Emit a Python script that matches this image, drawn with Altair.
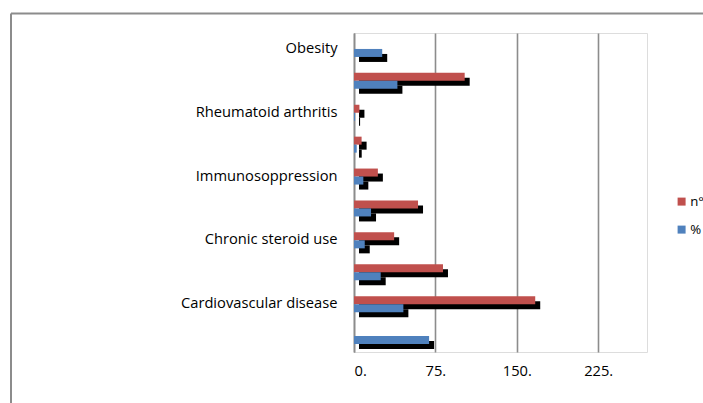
import altair as alt
import pandas as pd

# Rows from top to bottom; hidden-label rows use placeholder keys starting with "_"
rows = ["Obesity", "_2", "Rheumatoid arthritis", "_4", "Immunosoppression",
        "_6", "Chronic steroid use", "_8", "Cardiovascular disease", "_10"]
n_values = [None, 102, 5, 7, 22, 59, 37, 82, 167, None]
pct_values = [26, 40, 1, 2.5, 8.6, 15.7, 9.9, 24.6, 45.5, 69.2]
series_names = ["n°", "%"]
series_colors = ["#C0504D", "#4F81BD"]
x_ticks = [0, 75, 150, 225]

records = []
for r, n, p in zip(rows, n_values, pct_values):
    records.append({"row": r, "series": "n°", "value": n})
    records.append({"row": r, "series": "%", "value": p})
df = pd.DataFrame(records)

FONT = "Open Sans"
FS = 14.7
BAR_H = 8
SHADOW = 5

x_enc = alt.X("value:Q", scale=alt.Scale(domain=[0, 270], nice=False, zero=True),
              axis=alt.Axis(values=x_ticks, labelExpr="datum.value + '.'", title=None,
                            grid=True, gridColor="#8c8c8c", gridWidth=1.6,
                            domain=False, ticks=False, labelPadding=11,
                            labelFont=FONT, labelFontSize=FS, labelColor="#000000"))
y_enc = alt.Y("row:N", sort=rows,
              scale=alt.Scale(paddingInner=0, paddingOuter=0),
              axis=alt.Axis(title=None, ticks=False, domain=True, domainColor="#8c8c8c",
                            domainWidth=1.6, labelPadding=17,
                            labelExpr="indexof(datum.label, '_') == 0 ? '' : datum.label",
                            labelFont=FONT, labelFontSize=FS, labelColor="#000000",
                            labelLimit=330))
color_enc = alt.Color("series:N",
                      scale=alt.Scale(domain=series_names, range=series_colors),
                      legend=alt.Legend(title=None, orient="none", legendX=321, legendY=162,
                                        symbolType="square", symbolSize=64,
                                        symbolStrokeWidth=0, labelFont=FONT,
                                        labelFontSize=FS - 1.5, rowPadding=14,
                                        labelOffset=2, labelColor="#000000"))

base = alt.Chart(df)

def bars(series, offset, shadow):
    src = base.transform_filter(alt.datum.series == series)
    if shadow:
        return src.mark_bar(height=BAR_H, yOffset=offset + SHADOW, xOffset=SHADOW,
                            x2Offset=SHADOW, color="black").encode(x=x_enc, y=y_enc)
    return src.mark_bar(height=BAR_H, yOffset=offset).encode(
        x=x_enc, y=y_enc, color=color_enc)

layers = [
    bars("n°", -4, True),
    bars("%", 4, True),
    bars("n°", -4, False),
    bars("%", 4, False),
]

border_top = alt.Chart(pd.DataFrame({"a": [0]})).mark_rule(
    color="#8c8c8c", strokeWidth=2).encode(
    x=alt.value(-343), x2=alt.value(360), y=alt.value(-19.5))
border_left = alt.Chart(pd.DataFrame({"a": [0]})).mark_rule(
    color="#8c8c8c", strokeWidth=2).encode(
    x=alt.value(-343), y=alt.value(-19.5), y2=alt.value(380))

chart = alt.layer(*layers, border_top, border_left).properties(
    width=293, height=319,
    autosize=alt.AutoSizeParams(type="none"),
    padding={"left": 354, "top": 33, "right": 56, "bottom": 51},
).configure_view(stroke=None).configure(background="white")

chart.save("out.html", embed_options={"renderer": "svg", "actions": False})
